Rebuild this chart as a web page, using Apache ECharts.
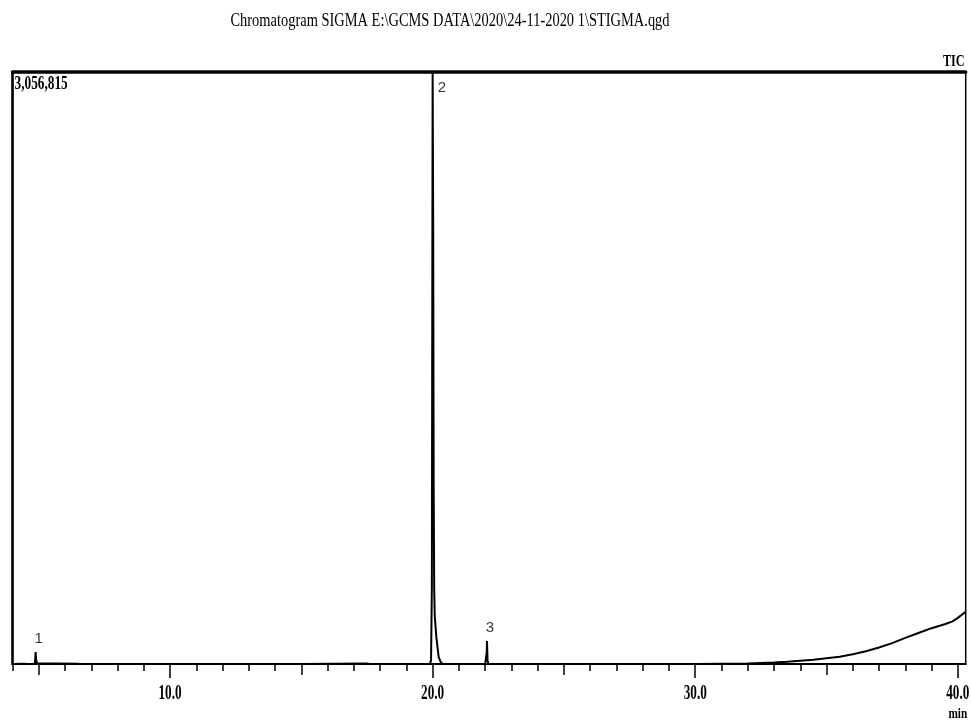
<!DOCTYPE html>
<html>
<head>
<meta charset="utf-8">
<script src="https://cdn.jsdelivr.net/npm/echarts@6/dist/echarts.min.js"></script>
<style>
html,body{margin:0;padding:0;background:#fff;}
#c{width:971px;height:725px;}
</style>
</head>
<body>
<div id="c"></div>
<script>
// ---- data ----
const chartTitle = 'Chromatogram SIGMA E:\\GCMS DATA\\2020\\24-11-2020 1\\STIGMA.qgd';
const maxLabel = '3,056,815';
const traceLabel = 'TIC';
const unitLabel = 'min';
const yMax = 3056815;
const xMin = 4.0;
const xMax = 40.3;
const minorTicks = [4,5,6,7,8,9,10,11,12,13,14,15,16,17,18,19,20,21,22,23,24,25,26,27,28,29,30,31,32,33,34,35,36,37,38,39,40];
const midTicks = [5,15,25,35];
const majorTicks = [10,20,30,40];
const times = [4.0,4.4,4.6,4.84,4.86,4.88,4.90,4.93,5.0,6.5,8.0,12.0,15.0,17.5,17.6,19.9,19.94,19.97,19.99,20.0,20.02,20.04,20.06,20.08,20.14,20.23,20.3,20.38,22.0,22.04,22.06,22.07,22.09,22.12,
  30.0,31.0,32.0,33.0,33.5,34.0,34.5,35.0,35.5,36.0,36.5,37.0,37.5,38.0,38.5,39.0,39.5,39.8,40.0,40.3];
const intensities = [0,1500,0,0,15000,62000,25000,4000,0,1000,0,0,0,2000,0,0,20000,400000,2200000,3056815,2300000,900000,380000,250000,140000,36000,12000,0,0,5000,60000,119000,20000,0,
  0,1500,3000,8000,11000,17000,22000,30000,38000,50000,66000,85000,108000,135000,160000,185000,205000,220000,238000,270000];
const peakNames = ['1','2','3'];
const peakTimes = [4.88,20.0,22.07];
const peakHeights = [62000,3056815,119000];

(function(){
const trace = times.map((t,i)=>[t,intensities[i]]);
const chart = echarts.init(document.getElementById('c'));
const baseX = {type:'value', min:xMin, max:xMax, gridIndex:0, position:'bottom', splitLine:{show:false}};
chart.setOption({
  animation:false,
  grid:{left:12.5, right:5.3, top:72, bottom:61, show:true, borderColor:'#000', borderWidth:1.5, backgroundColor:'#fff'},
  xAxis:[
    Object.assign({}, baseX, {axisLine:{show:true,lineStyle:{color:'#000',width:2}},
      axisTick:{show:true, customValues:minorTicks, length:7, lineStyle:{color:'#000',width:1.5}}, axisLabel:{show:false}}),
    Object.assign({}, baseX, {axisLine:{show:false},
      axisTick:{show:true, customValues:midTicks, length:11, lineStyle:{color:'#000',width:1.5}}, axisLabel:{show:false}}),
    Object.assign({}, baseX, {axisLine:{show:false},
      axisTick:{show:true, customValues:majorTicks, length:14, lineStyle:{color:'#000',width:1.5}}, axisLabel:{show:false}}),
    Object.assign({}, baseX, {position:'top', axisLine:{show:true,lineStyle:{color:'#000',width:3.5}}, axisTick:{show:false}, axisLabel:{show:false}})
  ],
  yAxis:[{type:'value', min:0, max:yMax, axisLine:{show:true,lineStyle:{color:'#000',width:2.5}}, axisTick:{show:false}, axisLabel:{show:false}, splitLine:{show:false}}],
  series:[
    {type:'line', data:trace, showSymbol:false, symbol:'none', lineStyle:{color:'#000', width:2}, clip:true, z:3},
    {type:'scatter', symbolSize:0, z:4,
      data:peakTimes.map((t,i)=>{
        const d={value:[t,peakHeights[i]], name:peakNames[i]};
        if(i===1){d.label={position:'right', offset:[0,16]};}
        else {d.label={position:'top', offset:[3,-1]};}
        return d;
      }),
      label:{show:true, formatter:p=>p.name, color:'#000', fontFamily:'Liberation Sans', fontSize:15}}
  ]
});

const gx = v=>chart.convertToPixel({xAxisIndex:0}, v);
const gy = v=>chart.convertToPixel({yAxisIndex:0}, v);
const graphics = [];
majorTicks.forEach(v=>{
  graphics.push({type:'text', x:gx(v), y:684, scaleX:0.66, style:{text:v.toFixed(1), font:'bold 20px "Liberation Serif"', fill:'#000', textAlign:'center', textVerticalAlign:'top'}});
});
const pl = gx(xMin), pr = gx(xMax), pt = gy(yMax);
graphics.push({type:'text', x:pl+2, y:pt+3, scaleX:0.7, style:{text:maxLabel, font:'bold 19px "Liberation Serif"', fill:'#000', textAlign:'left', textVerticalAlign:'top'}});
graphics.push({type:'text', x:pr-1, y:pt-19, scaleX:0.72, style:{text:traceLabel, font:'bold 17px "Liberation Serif"', fill:'#000', textAlign:'right', textVerticalAlign:'top'}});
graphics.push({type:'text', x:gx(40), y:707, scaleX:0.75, style:{text:unitLabel, font:'bold 15px "Liberation Serif"', fill:'#000', textAlign:'center', textVerticalAlign:'top'}});
graphics.push({type:'text', x:450, y:12, scaleX:0.76, style:{text:chartTitle, font:'19px "Liberation Serif"', fill:'#000', textAlign:'center', textVerticalAlign:'top'}});
chart.setOption({graphic:graphics});
})();
</script>
</body>
</html>
